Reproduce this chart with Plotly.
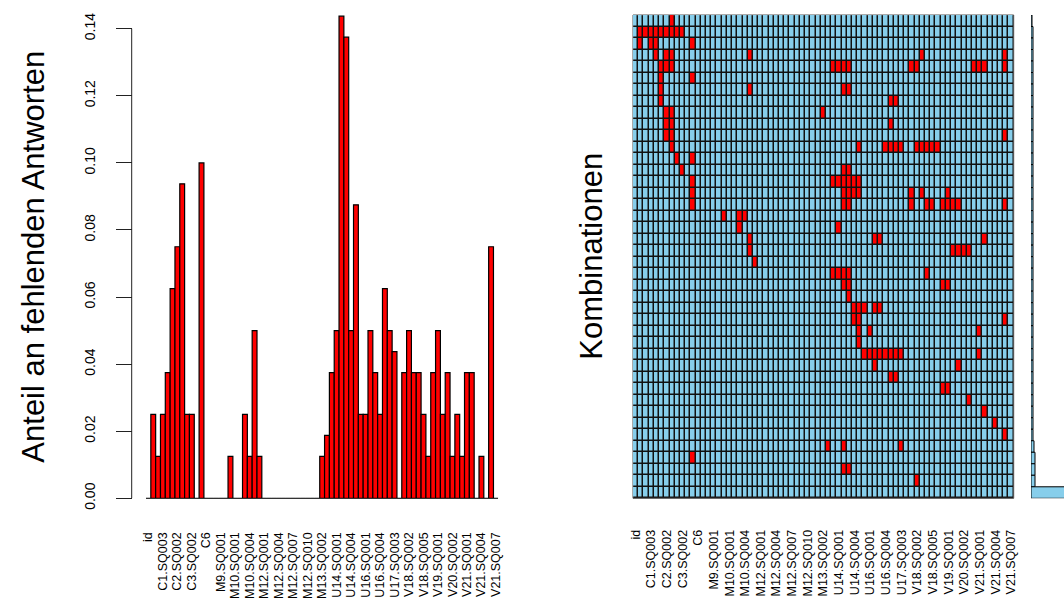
import plotly.graph_objects as go

W, H = 1064, 606

# ---------------- data ----------------
n_vars = 73
tick_labels = ["id", "C1.SQ003", "C2.SQ002", "C3.SQ002", "C6", "M9.SQ001", "M10.SQ001",
               "M10.SQ004", "M12.SQ001", "M12.SQ004", "M12.SQ007", "M12.SQ010", "M13.SQ002",
               "U14.SQ001", "U14.SQ004", "U16.SQ001", "U16.SQ004", "U17.SQ003", "V18.SQ002",
               "V18.SQ005", "V19.SQ001", "V20.SQ002", "V21.SQ001", "V21.SQ004", "V21.SQ007"]
tick_positions = list(range(0, n_vars, 3))

# proportion of missing answers per variable (73 variables)
missing_prop = [
    0.0, 0.025, 0.0125, 0.025, 0.0375, 0.0625, 0.075, 0.09375, 0.025, 0.025,
    0.0, 0.1, 0.0, 0.0, 0.0, 0.0, 0.0, 0.0125, 0.0, 0.0,
    0.025, 0.0125, 0.05, 0.0125, 0.0, 0.0, 0.0, 0.0, 0.0, 0.0,
    0.0, 0.0, 0.0, 0.0, 0.0, 0.0, 0.0125, 0.01875, 0.0375, 0.05,
    0.14375, 0.1375, 0.05, 0.0875, 0.025, 0.025, 0.05, 0.0375, 0.025, 0.0625,
    0.05, 0.04375, 0.0, 0.0375, 0.05, 0.0375, 0.0375, 0.025, 0.0125, 0.0375,
    0.05, 0.025, 0.0375, 0.0125, 0.025, 0.0125, 0.0375, 0.0375, 0.0, 0.0125,
    0.0, 0.075, 0.0,
]

# combinations (rows, top to bottom): indices of variables that are missing
combo_missing = [
    [7],
    [1, 2, 3, 4, 5, 6, 7, 8, 9],
    [1, 3, 4, 11],
    [4, 6, 7, 22, 55, 71],
    [5, 6, 7, 38, 39, 40, 41, 53, 54, 65, 66, 67, 71],
    [5, 11],
    [5, 22, 40, 41],
    [5, 49, 50],
    [6, 7, 36],
    [6, 7, 49],
    [6, 7, 71],
    [7, 43, 48, 49, 50, 51, 54, 55, 56, 57, 58],
    [8, 11],
    [9, 40, 41],
    [11, 38, 39, 40, 41, 42, 43],
    [11, 40, 41, 42, 43, 53, 55, 60],
    [11, 40, 41, 53, 56, 57, 59, 60, 61, 62, 71],
    [17, 20, 21],
    [20, 39],
    [22, 46, 47, 67],
    [22, 61, 62, 63, 64],
    [23],
    [38, 39, 40, 41, 56],
    [40, 41, 59, 60],
    [41],
    [42, 43, 44, 46, 47],
    [42, 43, 71],
    [43, 45, 66],
    [43],
    [44, 45, 46, 47, 48, 49, 50, 51, 66],
    [46, 62],
    [49, 50],
    [59, 60],
    [64],
    [67],
    [69],
    [71],
    [37, 40, 51],
    [11],
    [40, 41],
    [54],
    [],
]
# frequency of each combination
combo_count = [1, 2, 2, 2, 2, 2, 2, 2, 2, 2, 2, 2, 2, 2, 2, 2, 2, 2, 2, 2, 2,
               2, 2, 2, 2, 2, 2, 2, 2, 2, 2, 2, 2, 2, 2, 2, 2, 3, 4, 4, 4, 72]

y_ticks = [0.0, 0.02, 0.04, 0.06, 0.08, 0.10, 0.12, 0.14]

# ---------------- figure ----------------
n_rows = len(combo_missing)
z = [[1 if c in row else 0 for c in range(n_vars)] for row in combo_missing]

FONT = "Liberation Sans, Arial, sans-serif"
SKY = "#87CEEB"

fig = go.Figure()

fig.add_trace(go.Bar(
    x=list(range(n_vars)), y=missing_prop, width=1,
    marker=dict(color="#FF0000", line=dict(color="black", width=1.2)),
    xaxis="x", yaxis="y", hoverinfo="x+y"))

fig.add_trace(go.Heatmap(
    z=z, x=list(range(n_vars)), y=list(range(n_rows)),
    colorscale=[[0, SKY], [0.5, SKY], [0.5, "#FF0000"], [1, "#FF0000"]],
    zmin=0, zmax=1, showscale=False, xgap=1.5, ygap=1.5,
    xaxis="x2", yaxis="y2"))

fig.add_trace(go.Bar(
    x=combo_count, y=list(range(n_rows)), orientation="h", width=1, base=0,
    marker=dict(color=SKY, line=dict(color="black", width=1)),
    xaxis="x3", yaxis="y3"))

ydom = [1 - 498.3 / H, 1 - 15 / H]
xdom1 = [146 / W, 498.3 / W]
xdom2 = [633 / W, 1013.7 / W]
xdom3 = [1031 / W, 1.0]

xtick = dict(tickmode="array", tickvals=tick_positions, ticktext=tick_labels,
             tickangle=-90, ticks="", showgrid=False, zeroline=False,
             tickfont=dict(family=FONT, size=12.5, color="black"),
             ticklabelstandoff=28, automargin=False)

fig.update_layout(
    width=W, height=H, margin=dict(l=0, r=0, t=0, b=0, pad=0, autoexpand=False),
    paper_bgcolor="white", plot_bgcolor="white", showlegend=False,
    font=dict(family=FONT, color="black"),
    xaxis=dict(domain=xdom1, range=[-0.5, n_vars - 0.5], anchor="y",
               showline=True, linecolor="#333333", linewidth=1, **xtick),
    yaxis=dict(domain=ydom, range=[0, 0.1441], anchor="free", position=131.7 / W,
               tickmode="array", tickvals=y_ticks,
               ticktext=["%.2f" % v for v in y_ticks],
               ticks="outside", ticklen=16, tickwidth=1, tickcolor="#222222",
               tickangle=-90, ticklabelstandoff=15, automargin=False,
               tickfont=dict(family=FONT, size=14, color="black"),
               showgrid=False, zeroline=False, showline=False),
    xaxis2=dict(domain=xdom2, range=[-0.5, n_vars - 0.5], anchor="y2",
                showline=False, **xtick),
    yaxis2=dict(domain=ydom, range=[n_rows - 0.5, -0.5], anchor="x2", automargin=False,
                showticklabels=False, ticks="", showgrid=False, zeroline=False),
    xaxis3=dict(domain=xdom3, range=[0, 33], anchor="y3", visible=False, automargin=False),
    yaxis3=dict(domain=ydom, range=[n_rows - 0.5, -0.5], anchor="x3", visible=False,
                automargin=False),
    shapes=[
        dict(type="rect", xref="x2 domain", yref="y2 domain", x0=0, x1=1, y0=0, y1=1,
             fillcolor="#111111", line=dict(width=1, color="#555555"), layer="below"),
        dict(type="line", xref="paper", yref="y", x0=131.7 / W, x1=131.7 / W,
             y0=0, y1=0.14, line=dict(color="#222222", width=1)),
    ],
    annotations=[
        dict(text="Anteil an fehlenden Antworten", textangle=-90, showarrow=False,
             xref="paper", yref="paper", x=34 / W, y=(ydom[0] + ydom[1]) / 2,
             xanchor="center", yanchor="middle",
             font=dict(family=FONT, size=31, color="black")),
        dict(text="Kombinationen", textangle=-90, showarrow=False,
             xref="paper", yref="paper", x=592 / W, y=(ydom[0] + ydom[1]) / 2,
             xanchor="center", yanchor="middle",
             font=dict(family=FONT, size=31, color="black")),
    ],
)

fig.write_html(
    "out.html",
    config={"displayModeBar": False},
    post_script="document.body.style.margin='0px';document.body.style.overflow='hidden';",
)
